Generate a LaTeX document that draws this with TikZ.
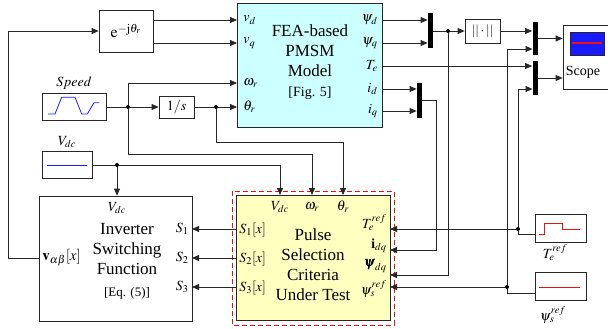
\documentclass[tikz,border=0pt]{standalone}
\usepackage{mathptmx}
\usepackage{bm}
\usepackage{fontspec}
\setmainfont{Liberation Serif}
\usetikzlibrary{positioning,calc,arrows.meta}
\definecolor{FeaFond}{HTML}{CCFFFF}
\definecolor{PulseFond}{HTML}{FFFFC0}
\definecolor{SigBleu}{HTML}{1A1AFF}
\definecolor{SigRouge}{HTML}{EE1111}
\definecolor{Trait}{HTML}{262626}

\begin{document}
\begin{tikzpicture}[x=1pt,y=-1pt,line width=.8pt,color=Trait,
  blk/.style={draw=Trait,fill=white,inner sep=0pt,text=black},
  sig/.style={-{Triangle[length=7pt,width=6pt]}},
  bar/.style={fill=black,draw=none,minimum width=5pt,inner sep=0pt},
  dot/.style={circle,fill=black,inner sep=0pt,minimum size=4pt},
  port/.style={font=\fontsize{14}{14}\selectfont,inner sep=1pt,text=black},
  txt/.style={font=\fontsize{17}{20}\selectfont,align=center,inner sep=0pt,text=black}]
  \useasboundingbox (0,0) rectangle (608,329);

  % blocks
  \node[blk,minimum width=54pt,minimum height=42pt] (ejt) at (126,31) {\fontsize{16}{16}\selectfont $\mathrm{e}^{-\mathrm{j}\theta_r}$};
  \node[blk,fill=FeaFond,minimum width=145pt,minimum height=124pt] (fea) at (309.5,65) {};
  \node[txt] (featxt) at (310,62) {FEA-based\\PMSM\\Model\\{\fontsize{14}{20}\selectfont [Fig. 5]}};
  \node[blk,minimum width=64pt,minimum height=27pt] (speed) at (74,107) {};
  \node[port] (spdlab) at (74,83) {$Speed$};
  \node[blk,minimum width=35pt,minimum height=22pt] (integ) at (176.5,107) {\fontsize{14}{14}\selectfont $1/s$};
  \node[blk,minimum width=50pt,minimum height=27pt] (vdcsrc) at (67,165) {};
  \node[port] (vdclab) at (67,142) {$V_{dc}$};
  \node[blk,minimum width=153pt,minimum height=125pt] (inv) at (115.5,258.5) {};
  \node[txt] (invtxt) at (127,249) {Inverter\\Switching\\Function};
  \node[port,font=\fontsize{13}{13}\selectfont] (inveq) at (127,293) {[Eq. (5)]};
  \draw[SigRouge,dashed,dash pattern=on 5pt off 3pt] (232,191) rectangle (394,325);
  \node[blk,fill=PulseFond,minimum width=154pt,minimum height=125pt] (pulse) at (313,257.5) {};
  \node[txt] (pulsetxt) at (313,265) {Pulse\\Selection\\Criteria\\Under Test};
  \node[blk,minimum width=35pt,minimum height=24pt] (norm) at (482.5,31) {\fontsize{13}{13}\selectfont $||\cdot||$};
  \node[blk,minimum width=50pt,minimum height=64pt] (scope) at (588,57) {};
  \node[port] (scopelab) at (583,72) {Scope};
  \node[blk,minimum width=51pt,minimum height=28pt] (terefsrc) at (560.5,228) {};
  \node[port] (tereflab) at (555,253) {$T_e^{ref}$};
  \node[blk,minimum width=51pt,minimum height=28pt] (psirefsrc) at (560.5,286) {};
  \node[port] (psireflab) at (553,315) {$\psi_s^{ref}$};

  % icons
  \draw[SigBleu] (48,114) -- (55,114) -- (61.7,97.3) -- (75,97.3) -- (81.7,114) -- (87.3,114) -- (94,102.7) -- (99.3,102.7);
  \draw[SigBleu] (47,165) -- (87,165);
  \draw[SigRouge] (539,234) -- (544,234) -- (544,223.7) -- (562.7,223.7) -- (562.7,229) -- (580,229);
  \draw[SigRouge] (539,287) -- (580,287);
  \draw[fill=SigBleu] (570,32) rectangle (604,55);
  \draw[SigRouge,line width=1.2pt] (572,43) -- (602,43);

  % mux bars
  \node[bar,minimum height=35pt] (mux1) at (430.5,30.5) {};
  \node[bar,minimum height=35pt] (mux2) at (419.5,100.5) {};
  \node[bar,minimum height=33pt] (mux3) at (535,38.5) {};
  \node[bar,minimum height=34pt] (mux4) at (535,78) {};

  % ports
  \foreach \nm/\yy in {vd/20,vq/43,wr/83,th/107}
    \coordinate (fea-\nm) at (237,\yy);
  \foreach \nm/\yy in {psd/20,psq/43,te/66,id/89,iq/111}
    \coordinate (fea-\nm) at (382,\yy);
  \foreach \nm/\xx in {vdc/280,wr/312,th/343}
    \coordinate (pulse-\nm) at (\xx,195);
  \foreach \nm/\yy in {te/229,idq/250,psi/275,psr/287}
    \coordinate (pulse-\nm) at (390,\yy);
  \foreach \k/\yy in {1/229,2/258,3/287}{
    \coordinate (pulse-s\k) at (236,\yy);
    \coordinate (inv-s\k) at (192,\yy);
  }
  \coordinate (inv-va) at (39,258);
  \coordinate (fbk) at (8,258);
  \coordinate (wr-bend) at (312,154);
  \coordinate (th-bend) at (343,142);
  \coordinate (idq-bend) at (436,250);
  \coordinate (teref-out) at (535,234);
  \coordinate (psref-out) at (535,293);
  \coordinate (mux3-b) at (532.5,49);
  \coordinate (mux4-b) at (532.5,89);

  % port labels
  \foreach \nm/\lab in {vd/v_d,vq/v_q,wr/\omega_r,th/\theta_r}
    \node[port,anchor=west] (fl-\nm) at ($(fea-\nm)+(5,0)$) {$\lab$};
  \foreach \nm/\lab in {psd/\psi_d,psq/\psi_q,te/T_e,id/i_d,iq/i_q}
    \node[port,anchor=east] (fr-\nm) at ($(fea-\nm)+(-3,0)$) {$\lab$};
  \foreach \nm/\lab in {vdc/V_{dc},wr/\omega_r,th/\theta_r}
    \node[port] (pt-\nm) at ($(pulse-\nm)+(0,12)$) {$\lab$};
  \node[port,anchor=east] (pr-te) at (388,223) {$T_e^{ref}$};
  \node[port,anchor=east] (pr-idq) at (388,246) {$\mathbf{i}_{dq}$};
  \node[port,anchor=east] (pr-psi) at (388,266) {$\bm{\psi}_{dq}$};
  \node[port,anchor=east] (pr-psr) at (388,289) {$\psi_s^{ref}$};
  \foreach \k in {1,2,3}{
    \node[port,anchor=west] (pl-s\k) at ($(pulse-s\k)+(2,1)$) {$S_\k[x]$};
    \node[port,anchor=east] (ir-s\k) at ($(inv-s\k)+(-2,0)$) {$S_\k$};
  }
  \node[port] (it-vdc) at (117,208) {$V_{dc}$};
  \node[port,anchor=west,font=\fontsize{15}{15}\selectfont] (il-va) at ($(inv-va)+(2,0)$) {$\mathbf{v}_{\alpha\beta}[x]$};

  % connectors
  \draw[sig] (ejt.east |- fea-vd) -- (fea-vd);
  \draw[sig] (ejt.east |- fea-vq) -- (fea-vq);
  \draw[sig] (inv-va) -- (fbk) |- (ejt.west);
  \node[dot] (spd-dot) at (128,107) {};
  \draw (speed.east) -- (spd-dot);
  \draw[sig] (spd-dot) -- (integ.west);
  \draw[sig] (spd-dot) |- (fea-wr);
  \draw[sig] (spd-dot) |- (wr-bend) -- (pulse-wr);
  \node[dot] (th-dot) at (216,107) {};
  \draw (integ.east) -- (th-dot);
  \draw[sig] (th-dot) -- (fea-th);
  \draw[sig] (th-dot) |- (th-bend) -- (pulse-th);
  \node[dot] (vdc-dot) at (117,165) {};
  \draw (vdcsrc.east) -- (vdc-dot);
  \draw[sig] (vdc-dot) -- (vdc-dot |- inv.north);
  \draw[sig] (vdc-dot) -| (pulse-vdc);
  \foreach \k in {1,2,3}
    \draw[sig] (pulse-s\k) -- (inv-s\k);

  \draw[sig] (fea-psd) -- (mux1.west |- fea-psd);
  \draw[sig] (fea-psq) -- (mux1.west |- fea-psq);
  \draw[sig] (fea-id) -- (mux2.west |- fea-id);
  \draw[sig] (fea-iq) -- (mux2.west |- fea-iq);
  \draw[sig] (fea-te) -- (mux4.west |- fea-te);
  \node[dot] (psi-dot) at (448,31) {};
  \draw (mux1.east |- psi-dot) -- (psi-dot);
  \draw[sig] (psi-dot) -- (norm.west);
  \draw[sig] (psi-dot) |- (pulse-psi);
  \draw[sig] (norm.east) -- (mux3.west |- norm.east);
  \draw[sig] (mux2.east) -| (idq-bend) -- (pulse-idq);
  \draw[sig] (mux3.east) -- (scope.west |- mux3.east);
  \draw[sig] (mux4.east) -- (scope.west |- mux4.east);

  \node[dot] (te-dot) at (518,229) {};
  \draw (teref-out) -| (te-dot);
  \draw[sig] (te-dot) -- (pulse-te);
  \draw[sig] (te-dot) |- (mux4-b);
  \node[dot] (ps-dot) at (507,287) {};
  \draw (psref-out) -| (ps-dot);
  \draw[sig] (ps-dot) -- (pulse-psr);
  \draw[sig] (ps-dot) |- (mux3-b);
\end{tikzpicture}
\end{document}
